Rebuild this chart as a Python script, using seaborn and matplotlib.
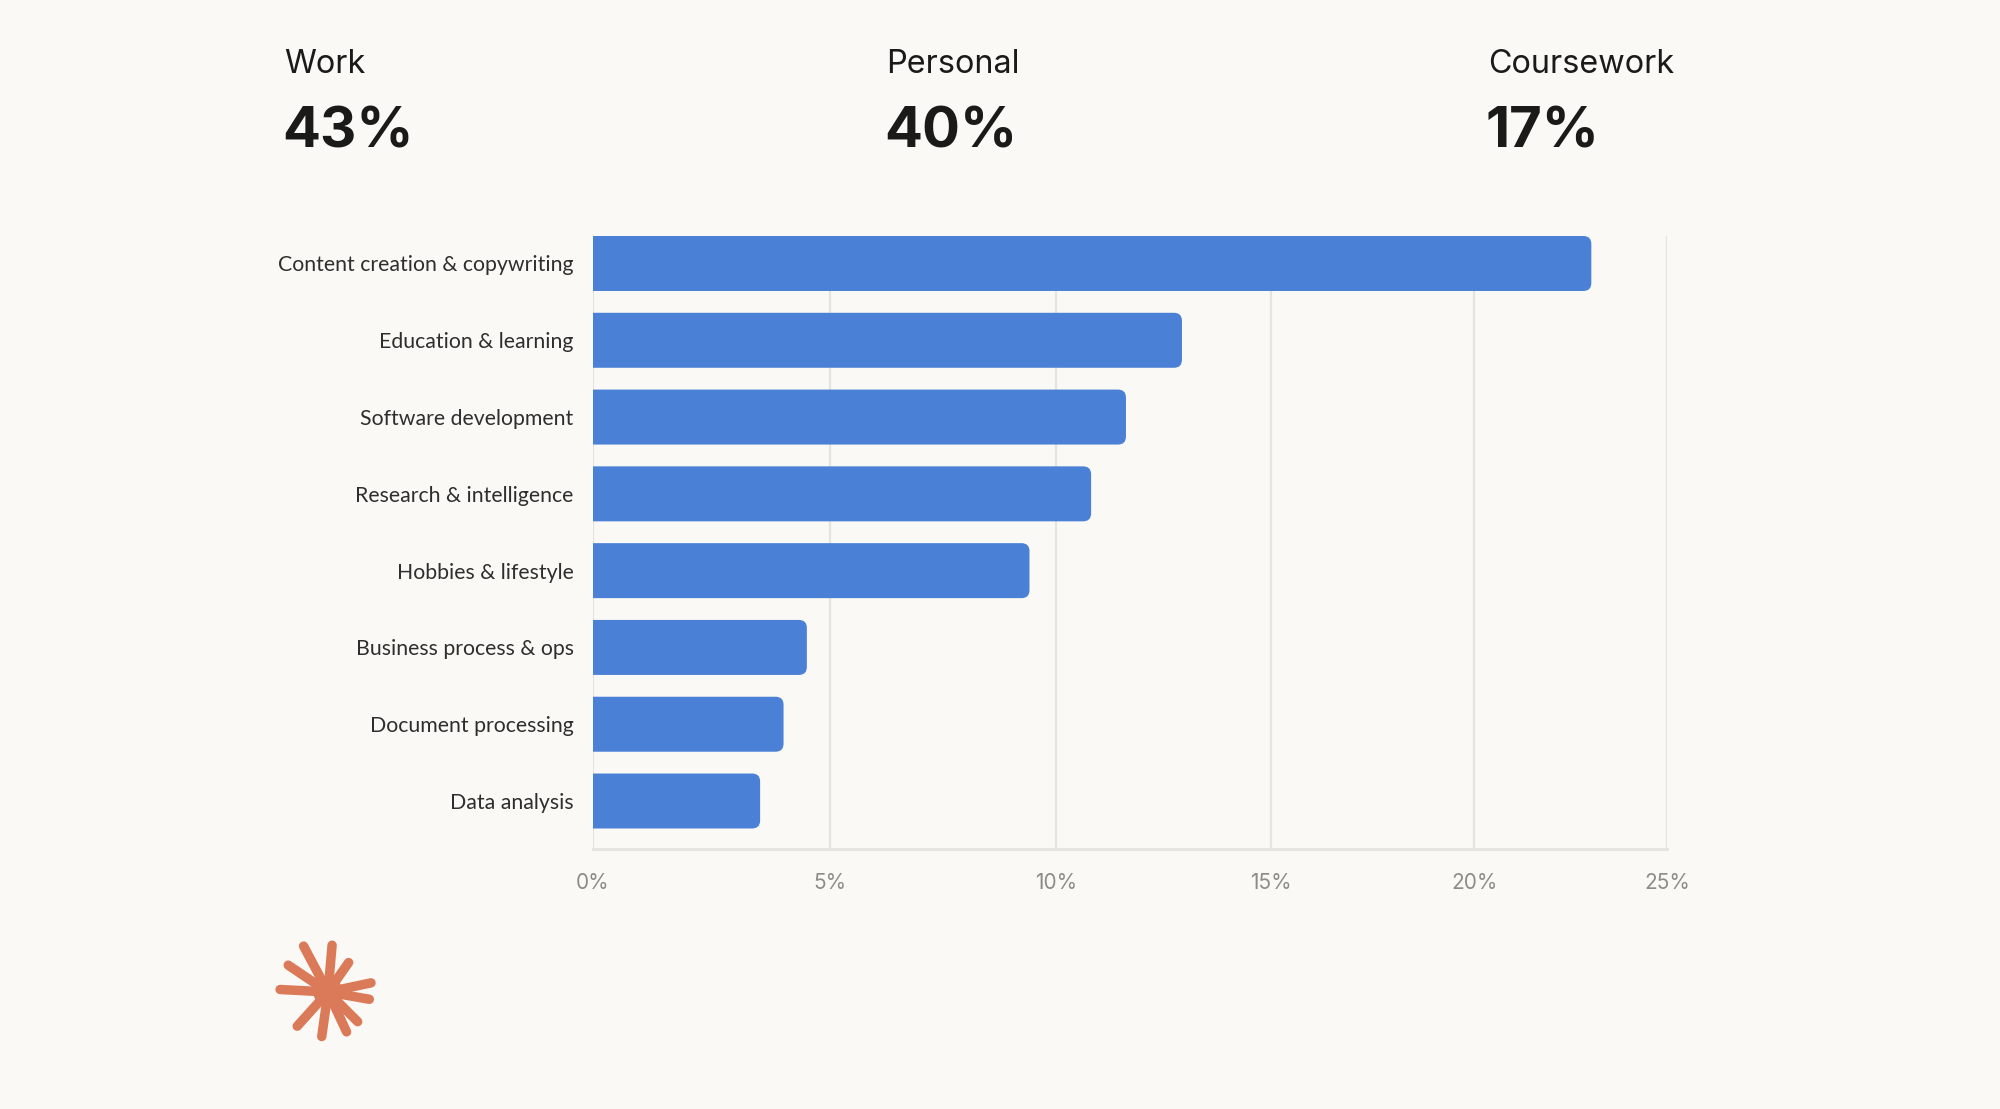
import numpy as np
import pandas as pd
import matplotlib
matplotlib.use("Agg")
import matplotlib.pyplot as plt
from matplotlib.patches import FancyBboxPatch, Circle
from matplotlib.ticker import FixedLocator, FuncFormatter
import seaborn as sns

# data
categories = [
    "Content creation & copywriting",
    "Education & learning",
    "Software development",
    "Research & intelligence",
    "Hobbies & lifestyle",
    "Business process & ops",
    "Document processing",
    "Data analysis",
]
shares = [23.0, 12.9, 11.6, 10.8, 9.4, 4.5, 4.0, 3.5]
x_ticks = [0, 5, 10, 15, 20, 25]

headline_labels = ["Work", "Personal", "Coursework"]
headline_values = [43, 40, 17]

BG = "#FAF9F5"
BAR = "#4A80D6"
GRID = "#E6E4DF"
TICK_TXT = "#8E8C88"
LABEL_TXT = "#2E2E2C"
HEAD_TXT = "#1A1A19"
ORANGE = "#DB7A58"

sns.set_theme(style="white")
plt.rcParams["font.family"] = ["Inter", "DejaVu Sans"]

df = pd.DataFrame({"category": categories, "share": shares})

fig = plt.figure(figsize=(20, 11.09), dpi=100, facecolor=BG)
ax = fig.add_axes([593 / 2000, 1 - 849 / 1109, (1667 - 593) / 2000, (849 - 236) / 1109])
ax.set_facecolor(BG)

sns.barplot(data=df, x="share", y="category", orient="h", color=BAR,
            width=0.716, saturation=1, ax=ax)

# the axis in the reference is slightly compressed towards the right
C = 0.004589


def fwd(x):
    x = np.asarray(x, dtype=float)
    return x - C * x ** 2


def inv(y):
    y = np.asarray(y, dtype=float)
    return (1 - np.sqrt(np.clip(1 - 4 * C * y, 0, None))) / (2 * C)


ax.set_xscale("function", functions=(fwd, inv))
ax.set_xlim(0, 25)
ax.set_ylim(7.625, -0.358)

ax.xaxis.set_major_locator(FixedLocator(x_ticks))
ax.xaxis.set_major_formatter(FuncFormatter(lambda v, _: f"{v:.0f}%"))
ax.xaxis.set_minor_locator(FixedLocator([]))
ax.grid(axis="x", color=GRID, linewidth=1.6)
ax.grid(axis="y", visible=False)
ax.set_axisbelow(True)

for side in ["top", "right", "left"]:
    ax.spines[side].set_visible(False)
ax.spines["bottom"].set_color(GRID)
ax.spines["bottom"].set_linewidth(2.2)

ax.tick_params(axis="x", length=6, width=1.6, color=GRID, labelsize=15,
               labelcolor=TICK_TXT, pad=11)
ax.tick_params(axis="y", length=0, labelsize=15.3, labelcolor=LABEL_TXT, pad=14)
for t in ax.get_yticklabels():
    t.set_family(["Lato", "DejaVu Sans"])
ax.set_xlabel("")
ax.set_ylabel("")

# rounded right ends on the bars
radius = 8
bars = list(ax.patches)
for p in bars:
    x0, y0, w, h = p.get_x(), p.get_y(), p.get_width(), p.get_height()
    end = x0 + w
    a = ax.transData.transform([(end, y0), (end - 1, y0 + 1)])
    px_x = abs(a[0, 0] - a[1, 0])
    px_y = abs(a[0, 1] - a[1, 1])
    rx = radius / px_x
    ry = radius / px_y
    p.set_visible(False)
    rb = FancyBboxPatch((x0 - rx, y0), w + rx, h,
                        boxstyle=f"round,pad=0,rounding_size={rx}",
                        mutation_aspect=ry / rx, facecolor=BAR,
                        edgecolor="none", zorder=2)
    ax.add_patch(rb)

# headline figures
for i, (lab, val) in enumerate(zip(headline_labels, headline_values)):
    xf = (284 + i * 602) / 2000
    fig.text(xf, 1 - 73 / 1109, lab, fontsize=23.3, color=HEAD_TXT, va="baseline")
    fig.text(xf - 0.001, 1 - 148 / 1109, f"{val}%", fontsize=40.5, fontweight="bold",
             color=HEAD_TXT, va="baseline")

# starburst mark
lax = fig.add_axes([(328 - 60) / 2000, 1 - (992 + 60) / 1109, 120 / 2000, 120 / 1109])
lax.set_xlim(-60, 60)
lax.set_ylim(-60, 60)
lax.axis("off")
rays = [(118, 52), (85, 47), (146, 48), (55, 36), (12, 44), (-10, 42),
        (-45, 42), (-65, 44), (-98, 45), (-132, 46), (177, 48)]
for ang, ln in rays:
    t = np.deg2rad(ang)
    lax.plot([0, ln * np.cos(t)], [0, ln * np.sin(t)], color=ORANGE, lw=6.8,
             solid_capstyle="round")
lax.add_patch(Circle((0, 0), 14, color=ORANGE))

fig.savefig("out.png", dpi=100, facecolor=BG)
